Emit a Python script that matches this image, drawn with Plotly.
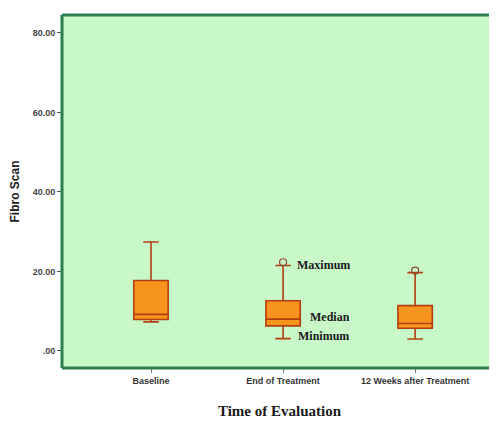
import plotly.graph_objects as go

categories = ["Baseline", "End of Treatment", "12 Weeks after Treatment"]
minimum = [7.3, 3.1, 3.0]
q1 = [7.9, 6.3, 5.7]
median = [9.2, 8.0, 6.9]
q3 = [17.7, 12.6, 11.4]
maximum = [27.4, 21.5, 19.7]
outlier_x = [1, 2]
outlier_y = [22.3, 20.2]
ytick_vals = [0, 20, 40, 60, 80]
ytick_text = [".00", "20.00", "40.00", "60.00", "80.00"]

xpos = list(range(len(categories)))

fig = go.Figure()
fig.add_trace(go.Box(
    x=xpos, q1=q1, median=median, q3=q3,
    lowerfence=minimum, upperfence=maximum,
    width=0.26, whiskerwidth=0.45,
    fillcolor="#F7941D",
    line=dict(color="#B23E10", width=1.6),
    boxpoints=False, hoverinfo="skip", showlegend=False,
))
fig.add_trace(go.Scatter(
    x=outlier_x, y=outlier_y, mode="markers",
    marker=dict(symbol="circle-open", size=7, color="#8B4A2B", line=dict(width=1.2)),
    showlegend=False, hoverinfo="skip",
))

notes = [("Maximum", 1.09, maximum[1]), ("Median", 1.19, median[1] + 0.6), ("Minimum", 1.10, minimum[1] + 0.6)]
for txt, xx, yy in notes:
    fig.add_annotation(x=xx, y=yy, text="<b>" + txt + "</b>", showarrow=False,
                       xanchor="left", yanchor="middle",
                       font=dict(family="Liberation Serif", size=12, color="#1a1a1a"))

border = dict(color="#2E7D4F", width=3)
fig.add_shape(type="line", xref="paper", yref="paper", x0=0, x1=0, y0=0, y1=1, line=border, layer="above")
fig.add_shape(type="line", xref="paper", yref="paper", x0=0, x1=1, y0=1, y1=1, line=border, layer="above")
fig.add_shape(type="line", xref="paper", yref="paper", x0=0, x1=1, y0=0, y1=0, line=border, layer="above")

fig.update_layout(
    width=489, height=413,
    margin=dict(l=54, r=0, t=7, b=53),
    paper_bgcolor="white", plot_bgcolor="#C8F7C8",
    xaxis=dict(range=[-0.674, 2.62], tickvals=xpos,
               ticktext=["<b>" + c + "</b>" for c in categories],
               showgrid=False, zeroline=False, ticks="outside", ticklen=4,
               tickcolor="#777", tickfont=dict(family="Arial", size=9, color="#333"),
               title=dict(text="<b>Time of Evaluation</b>", standoff=20,
                          font=dict(family="Liberation Serif", size=15, color="#1a1a1a"))),
    yaxis=dict(range=[-4.3, 84.5], tickvals=ytick_vals,
               ticktext=["<b>" + t + "</b>" for t in ytick_text],
               showgrid=False, zeroline=False, ticks="outside", ticklen=4,
               tickcolor="#555", tickfont=dict(family="Arial", size=9, color="#444"),
               title=dict(text="<b>Fibro Scan</b>", standoff=10,
                          font=dict(family="Arial", size=12, color="#1a1a1a"))),
)

fig.write_html("out.html")
